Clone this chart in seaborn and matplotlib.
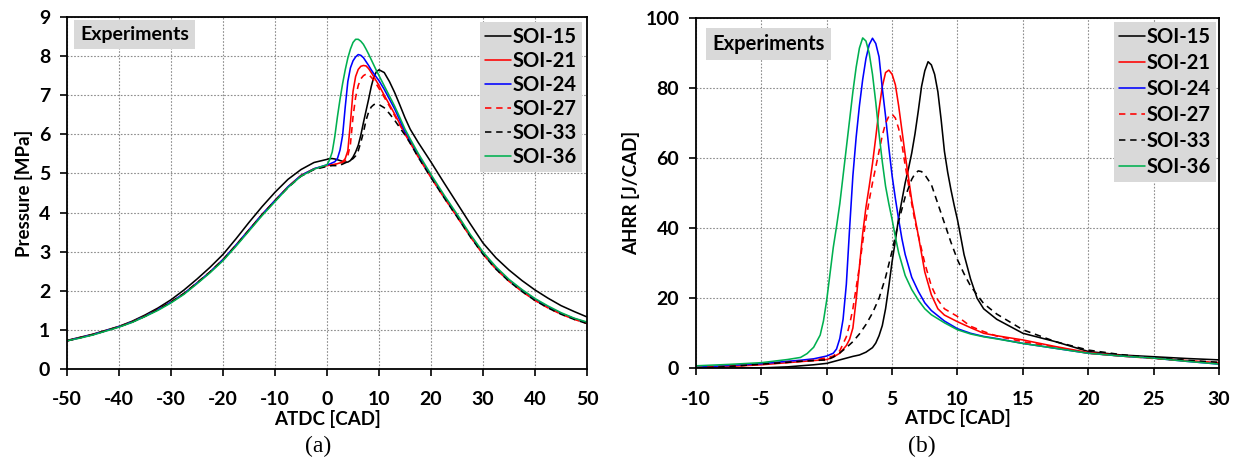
import matplotlib
matplotlib.use("Agg")
import matplotlib.pyplot as plt
import pandas as pd
import seaborn as sns

# ---------------- data ----------------
RUNS = ["SOI-15", "SOI-21", "SOI-24", "SOI-27", "SOI-33", "SOI-36"]

# (a) cylinder pressure [MPa] vs crank angle [CAD ATDC]
X_P = [-50, -47.5, -45, -42.5, -40, -37.5, -35, -32.5, -30, -27.5, -25, -22.5, -20, -17.5,
       -15, -12.5, -10, -7.5, -5, -2.5,
       0, 0.5, 1, 1.5, 2, 2.5, 3, 3.5, 4, 4.5, 5, 5.5, 6, 6.5, 7, 7.5, 8, 8.5, 9, 9.5, 10,
       11, 12, 13, 14, 15, 16, 17.5,
       20, 22.5, 25, 27.5, 30, 32.5, 35, 37.5, 40, 42.5, 45, 47.5, 50]

P_SOI15 = [0.73, 0.81, 0.89, 0.99, 1.09, 1.22, 1.38, 1.56, 1.77, 2.02, 2.30, 2.60, 2.93, 3.33,
           3.75, 4.15, 4.52, 4.85, 5.10, 5.28,
           5.36, 5.38, 5.38, 5.37, 5.35, 5.33, 5.31, 5.29, 5.29, 5.33, 5.42, 5.55, 5.72, 5.98,
           6.30, 6.60, 6.90, 7.22, 7.47, 7.60, 7.65,
           7.58, 7.35, 7.07, 6.75, 6.42, 6.13, 5.80,
           5.29, 4.76, 4.24, 3.72, 3.22, 2.84, 2.53, 2.26, 2.02, 1.81, 1.62, 1.47, 1.33]
P_SOI21 = [0.72, 0.80, 0.88, 0.98, 1.08, 1.20, 1.35, 1.52, 1.71, 1.93, 2.20, 2.48, 2.80, 3.17,
           3.56, 3.95, 4.31, 4.66, 4.95, 5.12,
           5.20, 5.21, 5.22, 5.23, 5.25, 5.27, 5.30, 5.38, 5.58, 6.30, 7.10, 7.48, 7.66, 7.74,
           7.76, 7.75, 7.68, 7.58, 7.47, 7.36, 7.25,
           7.00, 6.76, 6.52, 6.27, 6.03, 5.80, 5.46,
           4.92, 4.41, 3.92, 3.42, 2.96, 2.58, 2.27, 2.01, 1.78, 1.59, 1.42, 1.29, 1.18]
P_SOI24 = [0.72, 0.80, 0.88, 0.98, 1.08, 1.20, 1.35, 1.52, 1.71, 1.93, 2.20, 2.48, 2.80, 3.17,
           3.56, 3.95, 4.31, 4.66, 4.95, 5.12,
           5.22, 5.24, 5.27, 5.30, 5.38, 5.60, 5.98, 6.70, 7.35, 7.70, 7.88, 7.98, 8.04, 8.02,
           7.96, 7.86, 7.76, 7.65, 7.55, 7.46, 7.37,
           7.15, 6.90, 6.65, 6.36, 6.06, 5.82, 5.46,
           4.92, 4.41, 3.92, 3.42, 2.96, 2.58, 2.27, 2.01, 1.78, 1.59, 1.42, 1.29, 1.18]
P_SOI27 = [0.72, 0.80, 0.88, 0.98, 1.08, 1.20, 1.35, 1.52, 1.71, 1.93, 2.20, 2.48, 2.79, 3.16,
           3.55, 3.94, 4.30, 4.65, 4.94, 5.11,
           5.20, 5.21, 5.22, 5.23, 5.24, 5.26, 5.28, 5.33, 5.45, 5.75, 6.45, 6.95, 7.25, 7.42,
           7.50, 7.54, 7.53, 7.46, 7.38, 7.28, 7.17,
           6.95, 6.72, 6.48, 6.24, 6.00, 5.78, 5.43,
           4.89, 4.38, 3.89, 3.39, 2.93, 2.55, 2.24, 1.98, 1.75, 1.56, 1.40, 1.27, 1.16]
P_SOI33 = [0.72, 0.80, 0.88, 0.98, 1.08, 1.20, 1.35, 1.52, 1.71, 1.93, 2.20, 2.48, 2.79, 3.16,
           3.55, 3.94, 4.30, 4.64, 4.93, 5.10,
           5.18, 5.19, 5.20, 5.20, 5.20, 5.21, 5.24, 5.27, 5.30, 5.34, 5.38, 5.45, 5.58, 5.80,
           6.05, 6.36, 6.57, 6.70, 6.76, 6.78, 6.76,
           6.68, 6.53, 6.36, 6.17, 5.98, 5.77, 5.42,
           4.89, 4.38, 3.89, 3.39, 2.93, 2.55, 2.24, 1.98, 1.75, 1.56, 1.40, 1.27, 1.16]
P_SOI36 = [0.72, 0.79, 0.87, 0.97, 1.07, 1.19, 1.34, 1.50, 1.69, 1.91, 2.18, 2.46, 2.77, 3.14,
           3.53, 3.92, 4.28, 4.64, 4.93, 5.11,
           5.22, 5.35, 5.55, 5.95, 6.45, 6.90, 7.30, 7.65, 7.95, 8.18, 8.35, 8.43, 8.43, 8.38,
           8.30, 8.18, 8.05, 7.91, 7.77, 7.63, 7.50,
           7.24, 6.98, 6.72, 6.43, 6.13, 5.88, 5.52,
           4.97, 4.45, 3.96, 3.45, 2.99, 2.61, 2.29, 2.03, 1.80, 1.61, 1.44, 1.30, 1.20]

# (b) apparent heat release rate [J/CAD] vs crank angle [CAD ATDC]
X_H15 = [-10, -7.5, -5, -3, -2, -1, 0, 0.5, 1, 1.5, 2, 2.5, 3, 3.5, 3.75, 4, 4.25, 4.5, 4.75,
         5, 5.25, 5.5, 5.75, 6, 6.25, 6.5, 6.75, 7, 7.25, 7.5, 7.75, 8, 8.25, 8.5, 8.75, 9,
         9.25, 9.5, 9.75, 10, 10.25, 10.5, 11, 11.5, 12, 13, 15, 17.5, 20, 22.5, 25, 27.5, 30]
H_SOI15 = [0.0, 0.0, 0.1, 0.4, 0.7, 1.0, 1.4, 1.9, 2.4, 2.9, 3.4, 3.8, 4.6, 5.9, 7.2, 9.3,
           12.2, 17.0, 23.5, 30.5, 36.5, 43.0, 48.0, 53.0, 57.0, 61.5, 67.0, 73.5, 80.5, 85.0,
           87.6, 86.7, 84.0, 79.0, 71.0, 62.0, 56.0, 51.0, 46.5, 42.4, 37.5, 32.5, 25.5, 20.0,
           17.0, 14.0, 10.0, 7.6, 4.8, 3.8, 3.3, 2.8, 2.4]

X_H21 = [-10, -7.5, -5, -3, -2, -1, 0, 0.5, 1, 1.5, 1.75, 2, 2.25, 2.5, 2.75, 3, 3.25, 3.5,
         3.75, 4, 4.25, 4.5, 4.75, 5, 5.25, 5.5, 5.75, 6, 6.25, 6.5, 6.75, 7, 7.5, 8, 8.5, 9,
         10, 11, 12, 13, 15, 17.5, 20, 22.5, 25, 27.5, 30]
H_SOI21 = [0.0, 0.5, 1.0, 1.6, 1.9, 2.2, 2.5, 3.2, 4.3, 6.5, 8.3, 11.5, 19.5, 29.0, 38.5,
           46.0, 52.0, 58.5, 66.0, 74.0, 80.5, 84.5, 85.2, 84.0, 81.0, 75.0, 68.0, 61.0, 54.5,
           48.0, 43.0, 38.0, 27.5, 21.0, 17.0, 15.2, 13.3, 11.6, 10.0, 9.3, 8.1, 6.2, 4.5,
           3.6, 2.9, 2.2, 1.6]

X_H24 = [-10, -7.5, -5, -3, -2, -1, 0, 0.5, 0.75, 1, 1.25, 1.5, 1.75, 2, 2.25, 2.5, 2.75, 3,
         3.25, 3.5, 3.75, 4, 4.25, 4.5, 4.75, 5, 5.25, 5.5, 5.75, 6, 6.5, 7, 7.5, 8, 9, 10,
         11, 12, 13, 15, 17.5, 20, 22.5, 25, 27.5, 30]
H_SOI24 = [0.3, 0.8, 1.3, 2.0, 2.3, 2.7, 3.5, 4.3, 5.5, 8.5, 14.0, 24.0, 40.0, 55.0, 66.0,
           75.0, 82.5, 88.5, 92.5, 94.3, 92.8, 89.0, 80.0, 72.0, 63.0, 55.0, 48.5, 42.5, 37.0,
           32.5, 26.0, 22.0, 18.7, 16.5, 13.5, 11.3, 10.0, 9.1, 8.5, 7.1, 5.7, 4.3, 3.5, 2.9,
           2.0, 1.2]

X_H27 = [-10, -7.5, -5, -3, -2, -1, 0, 0.5, 1, 1.5, 1.75, 2, 2.25, 2.5, 2.75, 3, 3.25, 3.5,
         3.75, 4, 4.25, 4.5, 4.75, 5, 5.25, 5.5, 5.75, 6, 6.25, 6.5, 6.75, 7, 7.5, 8, 8.5, 9,
         10, 11, 12, 13, 15, 17.5, 20, 22.5, 25, 27.5, 30]
H_SOI27 = [0.2, 0.6, 1.1, 1.7, 2.0, 2.3, 3.0, 3.5, 5.0, 9.0, 12.5, 17.0, 23.0, 29.0, 36.0,
           42.5, 48.0, 53.0, 57.5, 62.0, 66.5, 70.0, 72.0, 72.6, 71.5, 68.5, 64.0, 58.0, 52.5,
           47.0, 42.0, 38.0, 30.0, 23.5, 19.5, 17.0, 14.8, 12.0, 10.5, 9.2, 7.6, 6.0, 4.3,
           3.5, 2.8, 2.1, 1.5]

X_H33 = [-10, -7.5, -5, -3, -2, -1, 0, 0.5, 1, 1.5, 2, 2.5, 3, 3.5, 4, 4.5, 5, 5.5, 6, 6.5,
         6.75, 7, 7.25, 7.5, 8, 8.5, 9, 9.5, 10, 10.5, 11, 11.5, 12, 13, 15, 17.5, 20, 22.5,
         25, 27.5, 30]
H_SOI33 = [0.0, 0.5, 1.2, 1.7, 2.0, 2.2, 2.4, 3.2, 4.4, 5.9, 7.6, 9.8, 12.5, 15.8, 20.0,
           26.0, 33.5, 42.0, 49.0, 54.0, 55.6, 56.4, 56.2, 55.3, 52.5, 47.0, 41.5, 36.0, 31.0,
           27.0, 23.5, 21.0, 18.5, 15.5, 11.0, 7.6, 5.2, 3.9, 3.0, 2.3, 1.7]

X_H36 = [-10, -7.5, -5, -3, -2, -1.5, -1, -0.5, -0.25, 0, 0.25, 0.5, 0.75, 1, 1.25, 1.5, 1.75,
         2, 2.25, 2.5, 2.75, 3, 3.25, 3.5, 3.75, 4, 4.25, 4.5, 4.75, 5, 5.25, 5.5, 6, 6.5, 7,
         7.5, 8, 9, 10, 11, 12, 13, 15, 17.5, 20, 22.5, 25, 27.5, 30]
H_SOI36 = [0.7, 1.1, 1.6, 2.5, 3.1, 4.2, 6.0, 9.5, 13.5, 19.5, 27.0, 34.5, 40.5, 47.0, 55.0,
           63.0, 71.0, 79.0, 86.0, 91.5, 94.4, 93.5, 90.0, 84.0, 76.0, 67.0, 59.0, 52.0, 47.0,
           42.5, 37.5, 33.0, 26.5, 22.5, 19.5, 17.0, 15.3, 13.0, 11.0, 9.8, 9.0, 8.4, 7.1, 5.7,
           4.3, 3.5, 2.9, 2.0, 1.2]

P_TICKS_X = [-50, -40, -30, -20, -10, 0, 10, 20, 30, 40, 50]
P_TICKS_Y = [0, 1, 2, 3, 4, 5, 6, 7, 8, 9]
H_TICKS_X = [-10, -5, 0, 5, 10, 15, 20, 25, 30]
H_TICKS_Y = [0, 20, 40, 60, 80, 100]

pressure = pd.DataFrame({"ATDC": X_P, "SOI-15": P_SOI15, "SOI-21": P_SOI21, "SOI-24": P_SOI24,
                         "SOI-27": P_SOI27, "SOI-33": P_SOI33, "SOI-36": P_SOI36})
pressure = pressure.melt(id_vars="ATDC", var_name="run", value_name="val")

ahrr_parts = []
for run, xs, ys in [("SOI-15", X_H15, H_SOI15), ("SOI-21", X_H21, H_SOI21),
                    ("SOI-24", X_H24, H_SOI24), ("SOI-27", X_H27, H_SOI27),
                    ("SOI-33", X_H33, H_SOI33), ("SOI-36", X_H36, H_SOI36)]:
    ahrr_parts.append(pd.DataFrame({"ATDC": xs, "run": run, "val": ys}))
ahrr = pd.concat(ahrr_parts, ignore_index=True)

# ---------------- style ----------------
sns.set_theme(style="ticks")
plt.rcParams["font.family"] = ["Lato", "DejaVu Sans"]
plt.rcParams["font.weight"] = "bold"
plt.rcParams["axes.labelweight"] = "bold"
plt.rcParams["axes.unicode_minus"] = False

COLORS = {"SOI-15": "#000000", "SOI-21": "#ff0000", "SOI-24": "#0000ff",
          "SOI-27": "#ff0000", "SOI-33": "#000000", "SOI-36": "#00b050"}
DASHED = {"SOI-27", "SOI-33"}
GREY = "#d9d9d9"

fig = plt.figure(figsize=(12.39, 4.66), dpi=100)
axL = fig.add_axes([0.0541, 0.2082, 0.4197, 0.7553])
axR = fig.add_axes([0.5617, 0.2097, 0.4222, 0.7510])


def draw_panel(ax, df, xlim, ylim, xticks, yticks, ylabel, exp_pos, exp_size,
               leg_anchor, leg_spacing):
    for run in RUNS:
        ls = (0, (4, 3)) if run in DASHED else "-"
        sub = df[df["run"] == run]
        sns.lineplot(data=sub, x="ATDC", y="val", ax=ax, color=COLORS[run], linestyle=ls,
                     linewidth=1.15, label=run, sort=False, estimator=None)
    ax.set_xlim(*xlim)
    ax.set_ylim(*ylim)
    ax.set_xticks(xticks)
    ax.set_yticks(yticks)
    ax.grid(True, color="#8c8c8c", linestyle=(0, (1.5, 1.5)), linewidth=0.8)
    for sp in ax.spines.values():
        sp.set_visible(True)
        sp.set_color("black")
        sp.set_linewidth(1.3)
    ax.tick_params(direction="out", length=5, width=1.2, color="black",
                   labelsize=14, pad=7, labelcolor="black")
    ax.tick_params(axis="x", pad=11)
    for lab in ax.get_xticklabels() + ax.get_yticklabels():
        lab.set_fontweight("bold")
    ax.set_xlabel("ATDC [CAD]", fontsize=13.5, fontweight="bold", color="black", labelpad=1)
    ax.set_ylabel(ylabel, fontsize=13.5, fontweight="bold", color="black", labelpad=4)
    ax.text(exp_pos[0], exp_pos[1], "Experiments", transform=ax.transAxes, ha="left", va="top",
            fontsize=exp_size, fontweight="bold", color="black",
            bbox=dict(facecolor=GREY, edgecolor="none", boxstyle="square,pad=0.3"))
    leg = ax.legend(loc="upper right", bbox_to_anchor=leg_anchor, borderaxespad=0,
                    frameon=True, fancybox=False, facecolor=GREY, edgecolor="none",
                    framealpha=1, handlelength=1.25, handletextpad=0.1,
                    labelspacing=leg_spacing, borderpad=0.25,
                    prop={"weight": "bold", "size": 14.5})
    for t in leg.get_texts():
        t.set_color("black")


draw_panel(axL, pressure, (-50, 50), (0, 9), P_TICKS_X, P_TICKS_Y, "Pressure [MPa]",
           (0.025, 0.975), 14, (0.99, 0.986), 0.2)
draw_panel(axR, ahrr, (-10, 30), (0, 100), H_TICKS_X, H_TICKS_Y, "AHRR [J/CAD]",
           (0.031, 0.955), 14.5, (0.994, 0.989), 0.3)

fig.text(318 / 1239, 1 - 446 / 466, "(a)", family="Liberation Serif", fontsize=17,
         fontweight="normal", ha="center", va="center", color="black")
fig.text(922 / 1239, 1 - 446 / 466, "(b)", family="Liberation Serif", fontsize=17,
         fontweight="normal", ha="center", va="center", color="black")

fig.savefig("out.png", dpi=100)
